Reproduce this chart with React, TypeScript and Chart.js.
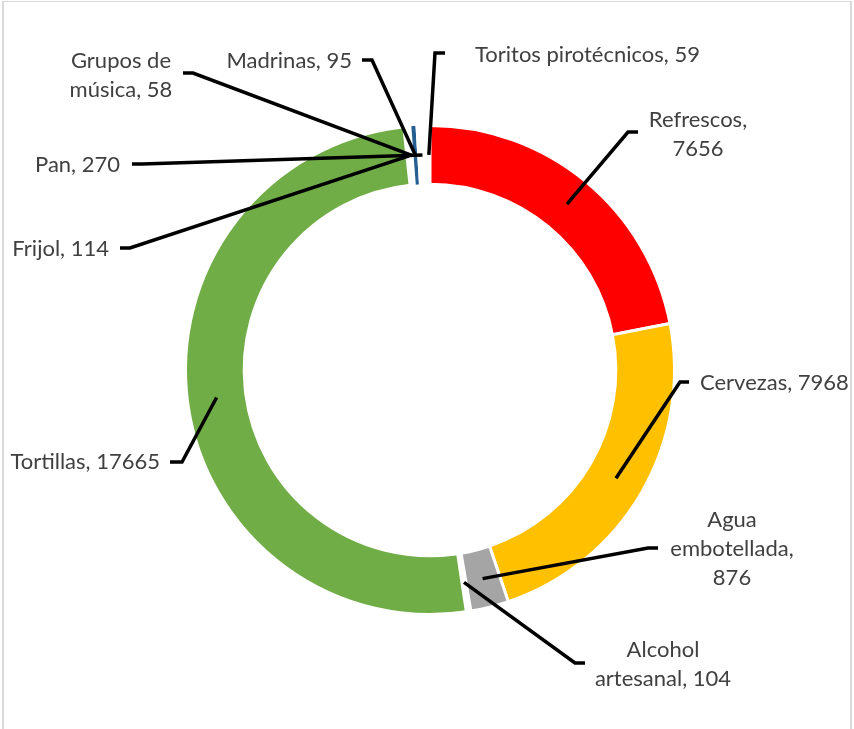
import React, { useEffect, useRef } from "react";
import { Chart, registerables } from "chart.js";

Chart.register(...registerables);

const categories = [
  "Refrescos",
  "Cervezas",
  "Agua embotellada",
  "Alcohol artesanal",
  "Tortillas",
  "Frijol",
  "Grupos de música",
  "Madrinas",
  "Pan",
  "Toritos pirotécnicos",
];
const values = [7656, 7968, 876, 104, 17665, 114, 58, 95, 270, 59];
const colors = [
  "#FF0000",
  "#FFC000",
  "#A5A5A5",
  "#FFFFFF",
  "#70AD47",
  "#FFFFFF",
  "#FFFFFF",
  "#255E91",
  "#FFFFFF",
  "#FFFFFF",
];
const borderWidths = [3, 3, 3, 0, 3, 0, 0, 0, 0, 0];
// words per line for each data label
const lineBreaks = [[1, 1], [2], [1, 1, 1], [1, 2], [2], [2], [2, 2], [2], [2], [3]];

type Layout = { x: number; y: number; align: CanvasTextAlign; from: [number, number]; elbow: [number, number] };
const labelLayout: Layout[] = [
  { x: 698, y: 127, align: "center", from: [638, 132], elbow: [628, 132] },
  { x: 700, y: 390, align: "left", from: [689, 382], elbow: [680, 382] },
  { x: 732, y: 527, align: "center", from: [658, 548], elbow: [648, 548] },
  { x: 663, y: 657, align: "center", from: [585, 663], elbow: [575, 663] },
  { x: 160, y: 469, align: "right", from: [170, 462], elbow: [182, 462] },
  { x: 109, y: 256, align: "right", from: [120, 248], elbow: [130, 248] },
  { x: 121, y: 68, align: "center", from: [183, 73], elbow: [193, 73] },
  { x: 352, y: 68, align: "right", from: [362, 60], elbow: [372, 60] },
  { x: 120, y: 172, align: "right", from: [132, 164], elbow: [142, 164] },
  { x: 475, y: 62, align: "left", from: [445, 53], elbow: [435, 53] },
];

const LINE_HEIGHT = 29;
const FONT = "22px Lato";

const labelPlugin = {
  id: "excelLabels",
  afterDraw(chart: any) {
    const ctx = chart.ctx as CanvasRenderingContext2D;
    const meta = chart.getDatasetMeta(0);
    ctx.save();
    ctx.strokeStyle = "#000000";
    ctx.lineWidth = 3.5;
    ctx.lineJoin = "miter";
    ctx.lineCap = "butt";
    meta.data.forEach((arc: any, i: number) => {
      const p = arc.getProps(["x", "y", "startAngle", "endAngle", "innerRadius", "outerRadius"], true);
      const a = (p.startAngle + p.endAngle) / 2;
      const r = (p.innerRadius + p.outerRadius) / 2;
      const ax = p.x + Math.cos(a) * r;
      const ay = p.y + Math.sin(a) * r;
      const L = labelLayout[i];
      ctx.beginPath();
      ctx.moveTo(L.from[0], L.from[1]);
      ctx.lineTo(L.elbow[0], L.elbow[1]);
      ctx.lineTo(ax, ay);
      ctx.stroke();
    });
    ctx.fillStyle = "#404040";
    ctx.font = FONT;
    ctx.textBaseline = "alphabetic";
    categories.forEach((cat, i) => {
      const words = `${cat}, ${values[i]}`.split(" ");
      const L = labelLayout[i];
      ctx.textAlign = L.align;
      let k = 0;
      lineBreaks[i].forEach((n, li) => {
        const line = words.slice(k, k + n).join(" ");
        k += n;
        ctx.fillText(line, L.x, L.y + li * LINE_HEIGHT);
      });
    });
    ctx.restore();
  },
};

export default function App() {
  const ref = useRef<HTMLCanvasElement | null>(null);
  useEffect(() => {
    if (!ref.current) return;
    const chart = new Chart(ref.current, {
      type: "doughnut",
      data: {
        labels: categories,
        datasets: [
          {
            data: values,
            backgroundColor: colors,
            borderColor: "#FFFFFF",
            borderWidth: borderWidths,
          },
        ],
      },
      options: {
        responsive: false,
        animation: false,
        cutout: "76%",
        layout: { padding: { left: 184, top: 124, right: 178, bottom: 113 } },
        plugins: {
          legend: { display: false },
          tooltip: { enabled: false },
        },
        events: [],
      },
      plugins: [labelPlugin],
    });
    return () => chart.destroy();
  }, []);
  return (
    <div style={{ position: "absolute", left: 0, top: 0, width: 854, height: 729, overflow: "hidden", background: "#fff" }}>
      <div
        style={{
          position: "absolute",
          left: 2,
          top: 1,
          width: 846,
          height: 800,
          borderLeft: "2px solid #D9D9D9",
          borderRight: "2px solid #D9D9D9",
          borderTop: "1px solid #D9D9D9",
        }}
      />
      <canvas ref={ref} width={854} height={729} style={{ position: "absolute", left: 0, top: 0 }} />
    </div>
  );
}
